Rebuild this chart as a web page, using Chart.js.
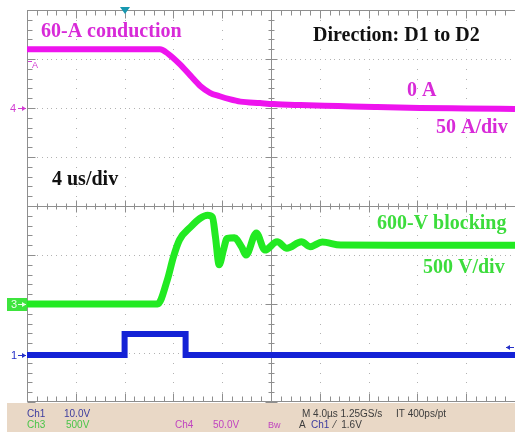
<!DOCTYPE html>
<html>
<head>
<meta charset="utf-8">
<script src="https://cdn.jsdelivr.net/npm/chart.js@4.4.1/dist/chart.umd.min.js"></script>
<style>
  html, body { margin: 0; padding: 0; background: #fff; }
  #wrap { position: relative; width: 515px; height: 432px; }
</style>
</head>
<body>
<div id="wrap"><canvas id="scopeChart" width="515" height="432"></canvas></div>
<script>
// time base: 4 us/div, 10 divisions (x in us)
const timeMin = 0;
const timeMax = 40;

// Ch4 - diode current (A), 50 A/div
const curTime = [0, 10.9, 11.6, 12.5, 13.4, 14.2, 15.0, 15.8, 16.6, 17.5, 19.1, 20.2, 22.4, 25.5, 28.5, 32.2, 36, 40];
const curAmps = [60, 60, 55, 45, 33, 22.5, 15.5, 12, 9, 6.5, 5, 4, 3, 2, 1, 0, -0.5, -1];

// Ch3 - blocking voltage (V), 500 V/div
const voltTime = [0, 10.7, 11.5, 12.0, 12.5, 13.4, 14.2, 14.8, 15.2, 15.45, 15.75, 16.1, 16.4, 17.0, 17.6, 17.95, 18.8, 19.5, 20.5, 21.3, 22.5, 23.2, 24.2, 25.7, 30, 40];
const voltVolts = [0, 0, 245, 480, 655, 785, 875, 905, 885, 680, 400, 550, 670, 675, 580, 500, 725, 550, 635, 570, 635, 585, 632, 602, 600, 600];

// Ch1 - gate signal (V), 10 V/div
const gateTime = [0, 8, 8, 13, 13, 40];
const gateVolts = [0, 0, 4.3, 4.3, 0, 0];

// channel settings: volts(amps) per div and ground offset in divisions
const ch4 = { perDiv: 50, offset: 2 };
const ch3 = { perDiv: 500, offset: -2 };
const ch1 = { perDiv: 10, offset: -3.04 };
const trigTime = 8;
const trigLevel = 1.6;

function toDiv(times, values, ch) {
    return times.map((t, i) => ({ x: t, y: ch.offset + values[i] / ch.perDiv }));
}

// oscilloscope graticule
const scopeGrid = {
    id: 'scopeGrid',
    beforeDatasetsDraw(chart) {
        const { ctx, chartArea: a } = chart;
        const dx = (a.right - a.left) / 10;
        const dy = (a.bottom - a.top) / 8;
        ctx.save();
        ctx.fillStyle = '#b2b2b2';
        for (let i = 1; i < 10; i++) {
            if (i === 5) continue;
            const x = Math.round(a.left + i * dx);
            for (let y = a.top; y < a.bottom; y += dy / 5) ctx.fillRect(x, Math.round(y), 1, 1);
        }
        for (let j = 1; j < 8; j++) {
            if (j === 4) continue;
            const y = Math.round(a.top + j * dy);
            for (let x = a.left; x < a.right; x += dx / 10) ctx.fillRect(Math.round(x), y, 1, 1);
        }

        ctx.strokeStyle = '#8e8e8e';
        ctx.lineWidth = 1;
        const line = (x1, y1, x2, y2) => {
            ctx.beginPath(); ctx.moveTo(x1, y1); ctx.lineTo(x2, y2); ctx.stroke();
        };
        const cx = Math.round(a.left + 5 * dx) + 0.5;
        const cy = Math.round(a.top + 4 * dy) + 0.5;
        const L = Math.round(a.left) + 0.5, T = Math.round(a.top) + 0.5, B = Math.round(a.bottom) - 0.5;
        line(a.left, cy, a.right, cy);
        line(cx, a.top, cx, a.bottom);
        line(L, a.top, L, a.bottom);
        line(a.left, T, a.right, T);
        line(a.left, B, a.right, B);

        for (let k = 0; k <= 50; k++) {
            const x = Math.round(a.left + k * dx / 5) + 0.5;
            const major = k % 5 === 0;
            line(x, T, x, T + (major ? 8 : 5));
            line(x, B, x, B - (major ? 8 : 5));
            line(x, cy - (major ? 6 : 3), x, cy + (major ? 6 : 3));
        }
        for (let k = 0; k <= 40; k++) {
            const y = Math.round(a.top + k * dy / 5) + 0.5;
            const major = k % 5 === 0;
            line(L, y, L + (major ? 8 : 5), y);
            line(cx - (major ? 6 : 3), y, cx + (major ? 6 : 3), y);
        }
        ctx.restore();
    }
};

// markers, labels and status bar
const scopeText = {
    id: 'scopeText',
    afterDraw(chart) {
        const { ctx, chartArea: a, scales } = chart;
        const yS = scales.y, xS = scales.x;
        ctx.save();

        const arrow = (x1, x2, y, color) => {
            ctx.strokeStyle = color; ctx.fillStyle = color; ctx.lineWidth = 1;
            ctx.beginPath(); ctx.moveTo(x1, y + 0.5); ctx.lineTo(x2, y + 0.5); ctx.stroke();
            const d = x2 > x1 ? -1 : 1;
            ctx.beginPath(); ctx.moveTo(x2, y + 0.5); ctx.lineTo(x2 + 4 * d, y - 2); ctx.lineTo(x2 + 4 * d, y + 3); ctx.fill();
        };

        // channel ground markers
        ctx.font = '11px "Liberation Sans", Arial, sans-serif';
        ctx.textBaseline = 'middle';
        let y4 = Math.round(yS.getPixelForValue(ch4.offset));
        ctx.fillStyle = '#d23cd2';
        ctx.fillText('4', 10, y4 + 1);
        arrow(18, a.left - 1, y4, '#d23cd2');

        let y3 = Math.round(yS.getPixelForValue(ch3.offset));
        ctx.fillStyle = '#3de43d';
        ctx.fillRect(7, y3 - 6, a.left - 7, 13);
        ctx.fillStyle = '#e8ffe8';
        ctx.fillText('3', 11, y3 + 1);
        arrow(18, a.left - 1, y3, '#e8ffe8');

        let y1 = Math.round(yS.getPixelForValue(ch1.offset));
        ctx.fillStyle = '#2530c8';
        ctx.fillText('1', 11, y1 + 1);
        arrow(18, a.left - 1, y1, '#2530c8');

        // ch4 reference tag
        ctx.font = '9px "Liberation Sans", Arial, sans-serif';
        ctx.fillStyle = '#d23cd2';
        ctx.fillText('A', a.left + 5, 66);
        ctx.fillRect(a.left + 1, 61, 4, 1);

        // trigger level and position
        const yt = Math.round(yS.getPixelForValue(ch1.offset + trigLevel / ch1.perDiv));
        arrow(514, 506, yt, '#2530c8');
        const xt = Math.round(xS.getPixelForValue(trigTime));
        ctx.fillStyle = '#1798b0';
        ctx.beginPath(); ctx.moveTo(xt - 5, 7); ctx.lineTo(xt + 5, 7); ctx.lineTo(xt, 14); ctx.fill();

        // annotations
        ctx.textBaseline = 'alphabetic';
        ctx.font = 'bold 20px "Liberation Serif", "Times New Roman", serif';
        ctx.fillStyle = '#d82ad8';
        ctx.fillText('60-A conduction', 41, 37);
        ctx.fillText('0 A', 407, 96);
        ctx.fillText('50 A/div', 436, 133);
        ctx.fillStyle = '#111';
        ctx.fillText('Direction: D1 to D2', 313, 41);
        ctx.fillText('4 us/div', 52, 185);
        ctx.fillStyle = '#3cdc3c';
        ctx.fillText('600-V blocking', 377, 229);
        ctx.fillText('500 V/div', 423, 273);

        // status bar
        ctx.fillStyle = '#e9d8c6';
        ctx.fillRect(7, a.bottom + 1, 515 - 7, 432 - a.bottom - 1);
        ctx.font = '10px "Liberation Sans", Arial, sans-serif';
        ctx.textBaseline = 'middle';
        const put = (txt, x, y, c) => { ctx.fillStyle = c; ctx.fillText(txt, x, y); };
        put('Ch1', 27, 414, '#3b3b9e');
        put('10.0V', 64, 414, '#3b3b9e');
        put('Ch3', 27, 425, '#49c449');
        put('500V', 66, 425, '#49c449');
        put('Ch4', 175, 425, '#c044c0');
        put('50.0V', 213, 425, '#c044c0');
        put('M 4.0\u00b5s 1.25GS/s', 302, 414, '#3c3c3c');
        put('IT 400ps/pt', 396, 414, '#3c3c3c');
        put('A', 299, 425, '#3c3c3c');
        put('Ch1', 311, 425, '#3b3b9e');
        put('\u2044  1.6V', 334, 425, '#3c3c3c');
        ctx.font = '9px "Liberation Sans", Arial, sans-serif';
        put('Bw', 268, 426, '#c044c0');
        ctx.restore();
    }
};

new Chart(document.getElementById('scopeChart').getContext('2d'), {
    type: 'line',
    data: {
        datasets: [
            {
                label: 'Ch4 current',
                data: toDiv(curTime, curAmps, ch4),
                borderColor: '#ee14ee',
                borderWidth: 6,
                cubicInterpolationMode: 'monotone',
                pointRadius: 0
            },
            {
                label: 'Ch3 voltage',
                data: toDiv(voltTime, voltVolts, ch3),
                borderColor: '#22ea22',
                borderWidth: 7,
                cubicInterpolationMode: 'monotone',
                pointRadius: 0
            },
            {
                label: 'Ch1 gate',
                data: toDiv(gateTime, gateVolts, ch1),
                borderColor: '#1422d6',
                borderWidth: 6,
                tension: 0,
                pointRadius: 0
            }
        ]
    },
    options: {
        responsive: false,
        animation: false,
        layout: { padding: { left: 27, top: 10, right: 0, bottom: 30 } },
        scales: {
            x: { type: 'linear', min: timeMin, max: timeMax, display: false },
            y: { type: 'linear', min: -4, max: 4, display: false }
        },
        plugins: {
            legend: { display: false },
            tooltip: { enabled: false }
        }
    },
    plugins: [scopeGrid, scopeText]
});
</script>
</body>
</html>
